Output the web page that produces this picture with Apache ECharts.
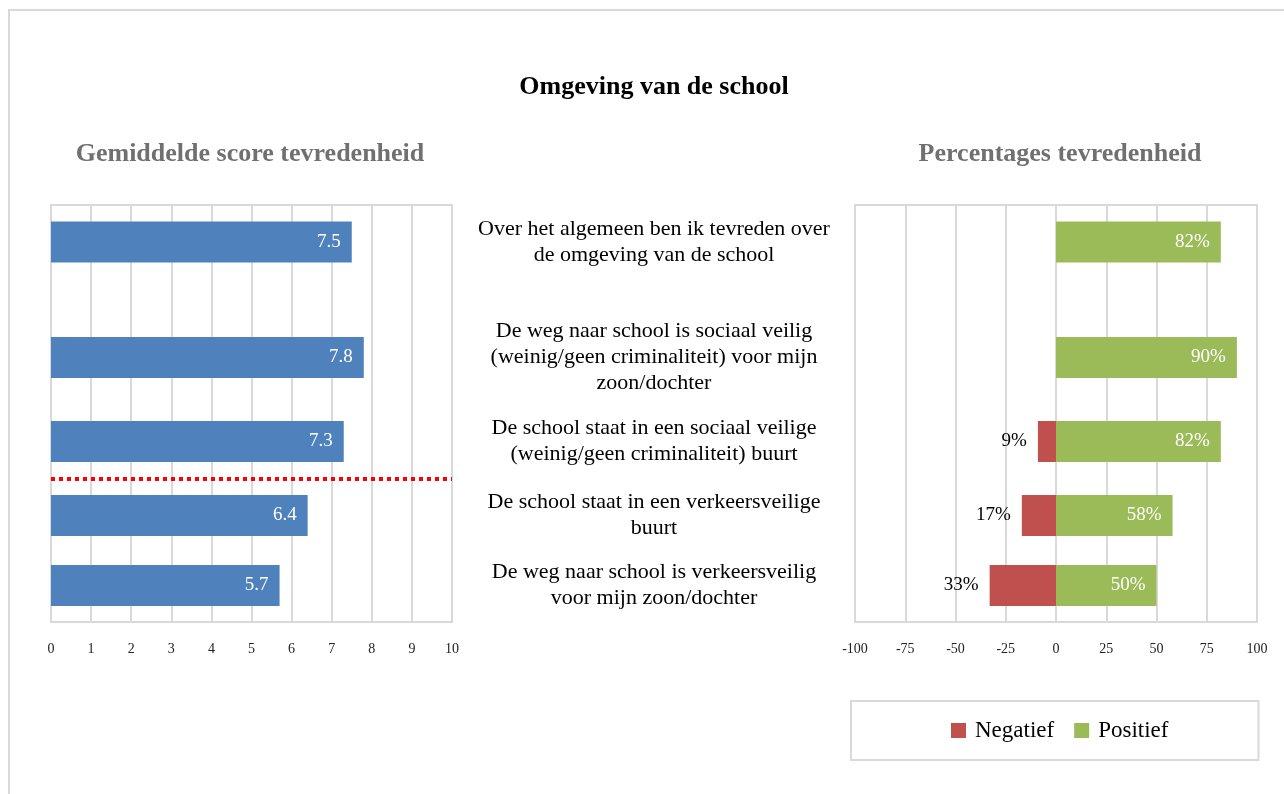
<!DOCTYPE html>
<html>
<head>
<meta charset="utf-8">
<title>Omgeving van de school</title>
<script src="https://cdn.jsdelivr.net/npm/echarts@6/dist/echarts.min.js"></script>
<style>
    html, body { margin: 0; padding: 0; background: #fff; }
    #chart { width: 1284px; height: 794px; }
</style>
</head>
<body>
<div id="chart"></div>
<script>
// stellingen (middenkolom)
const statements = [
    'Over het algemeen ben ik tevreden over\nde omgeving van de school',
    'De weg naar school is sociaal veilig\n(weinig/geen criminaliteit) voor mijn\nzoon/dochter',
    'De school staat in een sociaal veilige\n(weinig/geen criminaliteit) buurt',
    'De school staat in een verkeersveilige\nbuurt',
    'De weg naar school is verkeersveilig\nvoor mijn zoon/dochter'
]
// gemiddelde score (0-10)
const meanScores = [7.5, 7.8, 7.3, 6.4, 5.7]
// percentages
const negatief = [0, 0, 9, 17, 33]
const positief = [82, 90, 82, 58, 50]

// layout: verticale plek van elke rij binnen het plotvlak (px vanaf boven)
const PLOT_TOP = 205
const PLOT_H = 417
const rowPos = [37, 152.5, 236.5, 310.5, 380.5]
const thresholdPos = 274
const BAR_H = 41

const FONT = '"Liberation Serif", "Times New Roman", serif'
const GRID_COLOR = '#d9d9d9'

// balk tekenen via de assen
const barRenderer = (labelColor, labelPos, fmt) => (params, api) => {
    const v = api.value(1)
    if (!v) return null
    const p0 = api.coord([api.value(0), api.value(2)])
    const p1 = api.coord([v, api.value(2)])
    return {
        type: 'rect',
        shape: {
            x: Math.min(p0[0], p1[0]),
            y: p0[1] - BAR_H / 2,
            width: Math.abs(p1[0] - p0[0]),
            height: BAR_H
        },
        style: { fill: api.visual('color') },
        textContent: {
            style: { text: fmt(v), fill: labelColor, font: '19px ' + FONT }
        },
        textConfig: { position: labelPos, distance: 11 }
    }
}

const valueXAxis = (gridIndex, min, max, interval) => ({
    type: 'value',
    gridIndex,
    min,
    max,
    interval,
    axisLine: { show: true, lineStyle: { color: GRID_COLOR, width: 2 } },
    axisTick: { show: true, length: 10, lineStyle: { color: GRID_COLOR, width: 2 } },
    splitLine: { show: true, lineStyle: { color: GRID_COLOR, width: 2 } },
    axisLabel: { color: '#222', fontFamily: FONT, fontSize: 14, margin: 20 }
})

const rowYAxis = (gridIndex) => ({
    type: 'value',
    gridIndex,
    min: 0,
    max: PLOT_H,
    inverse: true,
    show: false
})

const chart = echarts.init(document.getElementById('chart'))

const option = {
    animation: false,
    backgroundColor: '#fff',
    graphic: [{
        type: 'rect',
        silent: true,
        shape: { x: 9, y: 10, width: 1300, height: 800 },
        style: { fill: 'none', stroke: GRID_COLOR, lineWidth: 2 }
    }],
    title: [
        {
            text: 'Omgeving van de school',
            left: 654, top: 74, padding: 0, textAlign: 'center',
            textStyle: { fontFamily: FONT, fontSize: 26, fontWeight: 'bold', color: '#000' }
        },
        {
            text: 'Gemiddelde score tevredenheid',
            left: 250, top: 141, padding: 0, textAlign: 'center',
            textStyle: { fontFamily: FONT, fontSize: 26, fontWeight: 'bold', color: '#707070' }
        },
        {
            text: 'Percentages tevredenheid',
            left: 1060, top: 141, padding: 0, textAlign: 'center',
            textStyle: { fontFamily: FONT, fontSize: 26, fontWeight: 'bold', color: '#707070' }
        }
    ],
    legend: {
        data: ['Negatief', 'Positief'],
        left: 851,
        top: 701,
        padding: [18, 90, 18, 100],
        icon: 'rect',
        itemWidth: 15,
        itemHeight: 15,
        itemGap: 20,
        borderColor: GRID_COLOR,
        borderWidth: 2,
        textStyle: { fontFamily: FONT, fontSize: 23, color: '#000', padding: [0, 0, 0, 4] }
    },
    grid: [
        { left: 51, top: PLOT_TOP, width: 401, height: PLOT_H, show: true, borderColor: GRID_COLOR, borderWidth: 2 },
        { left: 855, top: PLOT_TOP, width: 402, height: PLOT_H, show: true, borderColor: GRID_COLOR, borderWidth: 2 },
        { left: 460, top: PLOT_TOP, width: 388, height: PLOT_H }
    ],
    xAxis: [
        valueXAxis(0, 0, 10, 1),
        valueXAxis(1, -100, 100, 25),
        { type: 'value', gridIndex: 2, min: 0, max: 1, show: false }
    ],
    yAxis: [rowYAxis(0), rowYAxis(1), rowYAxis(2)],
    series: [
        {
            name: 'Gemiddelde',
            type: 'custom',
            xAxisIndex: 0,
            yAxisIndex: 0,
            itemStyle: { color: '#4f81bd' },
            encode: { x: [0, 1], y: 2 },
            data: meanScores.map((v, i) => [0, v, rowPos[i]]),
            renderItem: barRenderer('#fff', 'insideRight', (v) => v.toFixed(1))
        },
        {
            name: 'Grens',
            type: 'line',
            xAxisIndex: 0,
            yAxisIndex: 0,
            symbol: 'none',
            silent: true,
            lineStyle: { color: '#ff0000', width: 4, type: [4, 4] },
            data: [[0, thresholdPos], [10, thresholdPos]]
        },
        {
            name: 'Negatief',
            type: 'custom',
            xAxisIndex: 1,
            yAxisIndex: 1,
            itemStyle: { color: '#c0504d' },
            encode: { x: [0, 1], y: 2 },
            data: negatief.map((v, i) => [0, -v, rowPos[i]]),
            renderItem: barRenderer('#000', 'left', (v) => Math.abs(v) + '%')
        },
        {
            name: 'Positief',
            type: 'custom',
            xAxisIndex: 1,
            yAxisIndex: 1,
            itemStyle: { color: '#9bbb59' },
            encode: { x: [0, 1], y: 2 },
            data: positief.map((v, i) => [0, v, rowPos[i]]),
            renderItem: barRenderer('#fff', 'insideRight', (v) => v + '%')
        },
        {
            name: 'Stellingen',
            type: 'custom',
            xAxisIndex: 2,
            yAxisIndex: 2,
            silent: true,
            encode: { x: 0, y: 1 },
            data: statements.map((s, i) => [0.5, rowPos[i]]),
            renderItem: (params, api) => {
                const c = api.coord([api.value(0), api.value(1)])
                return {
                    type: 'text',
                    x: c[0],
                    y: c[1],
                    style: {
                        text: statements[params.dataIndex],
                        align: 'center',
                        verticalAlign: 'middle',
                        font: '22px ' + FONT,
                        lineHeight: 26,
                        fill: '#000'
                    }
                }
            }
        }
    ]
}

chart.setOption(option)
window.addEventListener('resize', () => chart.resize())
</script>
</body>
</html>
